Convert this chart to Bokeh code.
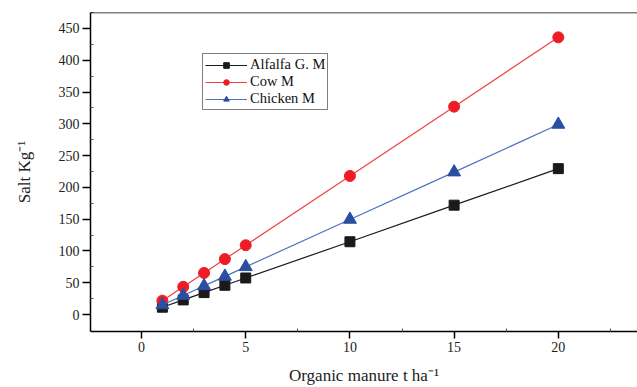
from bokeh.plotting import figure
from bokeh.models import Range1d, Span, Legend, LegendItem, FixedTicker
from bokeh.embed import file_html
from bokeh.resources import INLINE

manure = [1, 2, 3, 4, 5, 10, 15, 20]
alfalfa = [11.5, 23, 34.5, 46, 57.5, 114.5, 172, 229.5]
cow = [21.8, 43.6, 65.4, 87.2, 109, 218, 327, 436]
chicken = [15, 30, 45, 60, 75, 149.5, 224, 299]

x_ticks = [0, 5, 10, 15, 20]
y_ticks = [0, 50, 100, 150, 200, 250, 300, 350, 400, 450]

FONT = "Liberation Serif"

p = figure(width=637, height=387, output_backend="svg", toolbar_location=None,
           x_range=Range1d(-2.45, 23.8), y_range=Range1d(-26.7, 475.1),
           min_border_left=90, min_border_right=0, min_border_top=12, min_border_bottom=56)
p.outline_line_color = None
p.xgrid.visible = False
p.ygrid.visible = False
p.background_fill_color = "white"

# top border
p.add_layout(Span(location=475.1, dimension="width", line_color="black", line_width=1.5))

series = [
    ("Alfalfa G. M", alfalfa, "#1a1a1a", "#1a1a1a", "square", 10),
    ("Cow M", cow, "#f04040", "#ee1c24", "circle", 11),
    ("Chicken M", chicken, "#4a72c4", "#2a4fa0", "triangle", 13),
]
items = []
for name, vals, lc, mc, marker, size in series:
    l = p.line(manure, vals, line_color=lc, line_width=1.2)
    s = p.scatter(manure, vals, marker=marker, size=size, fill_color=mc, line_color=mc)
    items.append(LegendItem(label=name, renderers=[l, s]))

legend = Legend(items=items, location=(112, 221))
legend.label_text_font = FONT
legend.label_text_font_size = "14.5px"
legend.label_text_color = "#111111"
legend.glyph_width = 42
legend.glyph_height = 14
legend.label_height = 14
legend.spacing = 0
legend.padding = 2
legend.margin = 0
legend.label_standoff = 3
legend.border_line_color = "black"
legend.border_line_width = 1
legend.background_fill_alpha = 1
p.add_layout(legend)

for ax in (p.xaxis[0], p.yaxis[0]):
    ax.axis_line_width = 1.5
    ax.axis_line_color = "black"
    ax.major_tick_line_width = 1.5
    ax.major_tick_line_color = "black"
    ax.minor_tick_line_color = "#555555"
    ax.major_tick_in = 0
    ax.minor_tick_in = 3
    ax.minor_tick_out = 0
    ax.major_label_text_font = FONT
    ax.major_label_text_font_size = "14px"
    ax.major_label_text_color = "#222222"
    ax.axis_label_text_font = FONT
    ax.axis_label_text_font_style = "normal"
    ax.axis_label_text_color = "#222222"

p.xaxis[0].ticker = FixedTicker(ticks=x_ticks, minor_ticks=[2.5, 7.5, 12.5, 17.5, 22.5])
p.yaxis[0].ticker = FixedTicker(ticks=y_ticks, minor_ticks=[v + 25 for v in y_ticks])

p.xaxis[0].major_tick_out = 7
p.xaxis[0].major_label_standoff = 3
p.xaxis[0].axis_label = "Organic manure t ha\u207b\u00b9"
p.xaxis[0].axis_label_text_font_size = "17px"
p.xaxis[0].axis_label_standoff = 11

p.yaxis[0].major_tick_out = 8
p.yaxis[0].major_label_standoff = 3
p.yaxis[0].axis_label = "Salt Kg\u207b\u00b9"
p.yaxis[0].axis_label_text_font_size = "17px"
p.yaxis[0].axis_label_standoff = 22

open("out.html", "w").write(file_html(p, INLINE))
